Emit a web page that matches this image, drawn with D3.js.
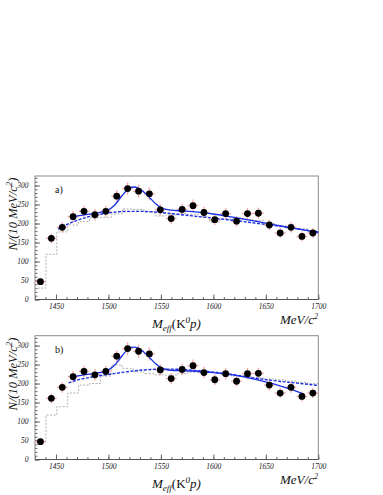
<!DOCTYPE html>
<html><head><meta charset="utf-8">
<script src="https://cdn.jsdelivr.net/npm/d3@7"></script>
<style>
html,body{margin:0;padding:0;background:#fff;}
svg{display:block;}
text{font-family:"Liberation Serif","DejaVu Serif",serif;}
</style></head>
<body>
<svg id="c" width="383" height="495"></svg>
<script>
// ---------------- data ----------------
const binCenters = [1435.2,1445.6,1456.0,1466.3,1476.7,1487.1,1497.5,1507.9,1518.3,1528.7,1539.0,1549.4,1559.8,1570.2,1580.6,1591.0,1601.3,1611.7,1622.1,1632.5,1642.9,1653.3,1663.7,1674.0,1684.4,1694.8];
const binEdges = [1430,1440.4,1450.8,1461.2,1471.5,1481.9,1492.3,1502.7,1513.1,1523.5,1533.8,1544.2,1554.6,1565,1575.4,1585.8,1596.2,1606.5,1616.9,1627.3,1637.7,1648.1,1658.5,1668.8,1679.2,1689.6,1700];
const counts = [47,161,190,218,232,223,232,272,292,285,278,236,213,237,247,229,210,226,206,226,227,196,175,190,166,175];
const errors = [7,13,14,15,15,15,15,16,17,17,17,15,15,15,16,15,14,15,14,15,15,14,13,14,13,13];
const halfBin = 5.2;

const histA = [30,119,178,196,205,215,216,225,238,237,231,220,222,226,224,218,204,212,212,210,208,200,195,188,186,180];
const histB = [47,117,139,175,196,200,220,249,240,231,226,223,222,226,230,232,230,225,220,218,215,212,210,206,203,200];

const fitA_x = [1466,1480,1490,1495,1500,1505,1510,1515,1520,1524,1528,1532,1536,1540,1545,1550,1555,1560,1570,1580,1600,1620,1640,1660,1680,1700];
const fitA_y = [218,224,228,231,236,246,262,280,293,296,294,287,277,266,252,242,237,235,233,231,225,216,206,196,186,176];
const bgA_x = [1452,1460,1470,1480,1490,1500,1510,1520,1530,1540,1550,1560,1570,1580,1600,1620,1640,1660,1680,1700];
const bgA_y = [185,197,208,217,223,228,231,232,232,231,229,226,223,220,214,208,201,194,186,178];

const fitB_x = [1466,1480,1490,1495,1500,1505,1510,1515,1520,1524,1528,1532,1536,1540,1545,1550,1555,1560,1570,1580,1600,1620,1640,1660,1680,1686];
const fitB_y = [218,224,228,231,236,246,262,280,293,296,294,287,277,266,252,242,237,235,234,233,229,222,211,197,179,172];
const bgB_x = [1462,1470,1480,1490,1500,1510,1520,1530,1540,1550,1560,1570,1580,1600,1620,1640,1660,1680,1700];
const bgB_y = [202,209,215,220,224,228,232,235,237,238,238,237,235,230,223,214,207,201,195];

const xTicks = [1450,1500,1550,1600,1650,1700];
const yTicks = [0,50,100,150,200,250,300];
const panelLabels = ["a)","b)"];

// ---------------- drawing ----------------
const svg = d3.select("#c");
const x = d3.scaleLinear().domain([1430,1700]).range([35,318.3]);

const panels = [
  {y: d3.scaleLinear().domain([0,325]).range([299.5,176]), hist: histA, fx: fitA_x, fy: fitA_y, bx: bgA_x, by: bgA_y, label: panelLabels[0]},
  {y: d3.scaleLinear().domain([0,326]).range([459.5,335.7]), hist: histB, fx: fitB_x, fy: fitB_y, bx: bgB_x, by: bgB_y, label: panelLabels[1]}
];

const frameCol = "#8c8c8c";

panels.forEach((p, pi) => {
  const y = p.y;
  const g = svg.append("g");
  const [y0, y1] = y.range();

  // frame
  g.append("rect").attr("x", x.range()[0]).attr("y", y1)
    .attr("width", x.range()[1]-x.range()[0]).attr("height", y0-y1)
    .attr("fill","none").attr("stroke",frameCol).attr("stroke-width",1);

  // x axis minor + major
  g.append("g").attr("transform",`translate(0,${y0})`)
    .call(d3.axisBottom(x).tickValues(x.ticks(27)).tickSize(-2.5).tickFormat(""))
    .call(a=>{a.select(".domain").remove(); a.selectAll("line").attr("stroke","#666");});
  g.append("g").attr("transform",`translate(0,${y0})`)
    .call(d3.axisBottom(x).tickValues(xTicks).tickSize(-5).tickPadding(4).tickFormat(d3.format("d")))
    .call(a=>{a.select(".domain").remove(); a.selectAll("line").attr("stroke","#666");
      a.selectAll("text").attr("font-family","Liberation Serif").attr("font-style","italic").attr("font-size","7.5px").attr("fill","#222");});
  // y axis minor + major
  g.append("g").attr("transform",`translate(${x.range()[0]},0)`)
    .call(d3.axisLeft(y).tickValues(y.ticks(33)).tickSize(-2.5).tickFormat(""))
    .call(a=>{a.select(".domain").remove(); a.selectAll("line").attr("stroke","#666");});
  g.append("g").attr("transform",`translate(${x.range()[0]},0)`)
    .call(d3.axisLeft(y).tickValues(yTicks).tickSize(-5).tickPadding(6.5).tickFormat(d3.format("d")))
    .call(a=>{a.select(".domain").remove(); a.selectAll("line").attr("stroke","#666");
      a.selectAll("text").attr("font-family","Liberation Serif").attr("font-style","italic").attr("font-size","7.5px").attr("fill","#222");});
  // bottom axis line darker
  g.append("line").attr("x1",x.range()[0]).attr("x2",x.range()[1]).attr("y1",y0).attr("y2",y0)
    .attr("stroke","#555").attr("stroke-width",1);

  // histogram (gray dashed step)
  const stepPts = [];
  p.hist.forEach((v,i)=>{ stepPts.push([binEdges[i], v]); stepPts.push([binEdges[i+1], v]); });
  const stepLine = d3.line().x(d=>x(d[0])).y(d=>y(d[1]));
  g.append("path").attr("d", stepLine([[binEdges[0],0]].concat(stepPts)))
    .attr("fill","none").attr("stroke","#b0b0b0").attr("stroke-width",1).attr("stroke-dasharray","2,1.5");

  // error bars
  const eb = g.append("g").attr("stroke","#f29a9a").attr("stroke-width",1.4).attr("stroke-opacity",0.8);
  counts.forEach((c,i)=>{
    eb.append("line").attr("x1",x(binCenters[i])).attr("x2",x(binCenters[i]))
      .attr("y1",y(c-errors[i])).attr("y2",y(c+errors[i]));
    eb.append("line").attr("x1",x(binCenters[i]-halfBin)).attr("x2",x(binCenters[i]+halfBin))
      .attr("y1",y(c)).attr("y2",y(c));
  });

  // curves
  const cl = d3.line().x(d=>x(d[0])).y(d=>y(d[1])).curve(d3.curveMonotoneX);
  g.append("path").attr("d", cl(p.bx.map((v,i)=>[v,p.by[i]])))
    .attr("fill","none").attr("stroke","#1a2fe6").attr("stroke-width",1.4).attr("stroke-dasharray","3,1.5");
  g.append("path").attr("d", cl(p.fx.map((v,i)=>[v,p.fy[i]])))
    .attr("fill","none").attr("stroke","#1a2fe6").attr("stroke-width",1.3);

  // points
  g.append("g").selectAll("circle").data(counts).join("circle")
    .attr("cx",(d,i)=>x(binCenters[i])).attr("cy",d=>y(d)).attr("r",3.4).attr("fill","#000");

  // panel label
  g.append("text").attr("x",55).attr("y",y1+17).attr("font-size","10px").attr("fill","#111").text(p.label);

  // y title
  const yt = g.append("text").attr("transform",`translate(17,${214+pi*160}) rotate(-90)`)
    .attr("text-anchor","middle").attr("font-style","italic").attr("font-size","12.5px").attr("fill","#111");
  yt.append("tspan").text("N/(10 MeV/c");
  yt.append("tspan").attr("font-size","9px").attr("dy","-5").text("2");
  yt.append("tspan").attr("dy","5").text(")");

  // x title
  const xt = g.append("text").attr("x",152).attr("y",328+pi*160).attr("font-size","13px").attr("fill","#111");
  xt.append("tspan").attr("font-style","italic").text("M");
  xt.append("tspan").attr("font-style","italic").attr("font-size","9px").attr("dy","3").text("eff");
  xt.append("tspan").attr("dy","-3").text("(K");
  xt.append("tspan").attr("font-style","italic").attr("font-size","9px").attr("dy","-5").text("0");
  xt.append("tspan").attr("font-style","italic").attr("dy","5").text("p)");

  const ut = g.append("text").attr("x",280).attr("y",323.5+pi*160).attr("font-size","13px").attr("font-style","italic").attr("fill","#111");
  ut.append("tspan").text("MeV/c");
  ut.append("tspan").attr("font-size","8px").attr("dy","-5").text("2");
});
</script>
</body></html>
